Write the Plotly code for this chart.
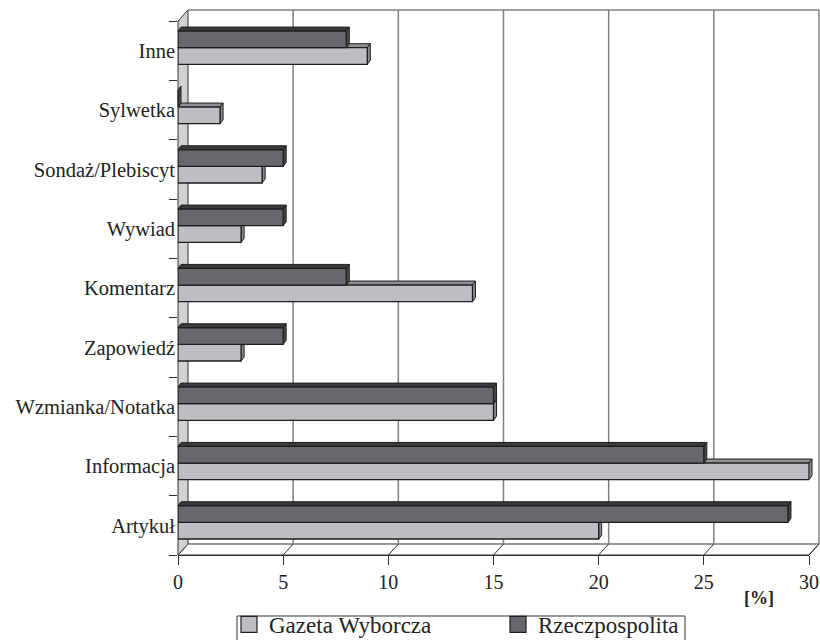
import plotly.graph_objects as go

categories = ["Artykuł", "Informacja", "Wzmianka/Notatka", "Zapowiedź", "Komentarz",
              "Wywiad", "Sondaż/Plebiscyt", "Sylwetka", "Inne"]
gazeta_wyborcza = [20, 30, 15, 3, 14, 3, 4, 2, 9]
rzeczpospolita = [29, 25, 15, 5, 8, 5, 5, 0, 8]
x_ticks = [0, 5, 10, 15, 20, 25, 30]

LIGHT = "#bdbec2"
DARK = "#67686c"
EDGE = "#1e1e1e"
FONT = "Liberation Serif, Times New Roman, serif"

W, H = 820, 640
L, R, T, B = 178, 11, 21, 85
PW, PH = W - L - R, H - T - B
XMAX = 30.0
NCAT = len(categories)


def pxp(dx):
    return dx / PW


def pyp(dy):
    return dy / PH


def xp(v):
    return v / XMAX


def yp(c):
    return (c + 0.5) / NCAT


DEPTH_X, DEPTH_Y = pxp(10), pyp(11)
CAP_X, CAP_Y = pxp(3), pyp(4)
BAR_W = 0.28
OFF_GW, OFF_R = -0.23, 0.05

fig = go.Figure()
fig.add_trace(go.Bar(name="Gazeta Wyborcza", y=categories, x=gazeta_wyborcza, orientation="h",
                     width=BAR_W, offset=OFF_GW, showlegend=False,
                     marker=dict(color=LIGHT, line=dict(color=EDGE, width=1.3))))
fig.add_trace(go.Bar(name="Rzeczpospolita", y=categories, x=rzeczpospolita, orientation="h",
                     width=BAR_W, offset=OFF_R, showlegend=False,
                     marker=dict(color=DARK, line=dict(color=EDGE, width=1.3))))
# legend entries with square swatches
for name, col in (("Gazeta Wyborcza", LIGHT), ("Rzeczpospolita", DARK)):
    fig.add_trace(go.Scatter(name=name, x=[None], y=[None], mode="markers",
                             marker=dict(symbol="square", size=16, color=col,
                                         line=dict(color="#222", width=1.2))))

shapes = []


def poly(pts, fill, line="#222", lw=1.0, layer="below"):
    path = "M " + " L ".join(f"{x:.5f},{y:.5f}" for x, y in pts) + " Z"
    shapes.append(dict(type="path", xref="paper", yref="paper", path=path,
                       fillcolor=fill, line=dict(color=line, width=lw), layer=layer))


# floor
poly([(0, 0), (1, 0), (1 + DEPTH_X, DEPTH_Y), (DEPTH_X, DEPTH_Y)], "white", "#333", 1)
# left wall
poly([(0, 0), (0, 1), (DEPTH_X, 1 + DEPTH_Y), (DEPTH_X, DEPTH_Y)], "#d2d2d2", "#333", 1)
# back wall top
shapes.append(dict(type="line", xref="paper", yref="paper", x0=DEPTH_X, x1=1 + DEPTH_X,
                   y0=1 + DEPTH_Y, y1=1 + DEPTH_Y, line=dict(color="#808080", width=1.5), layer="below"))
for v in x_ticks[1:]:
    shapes.append(dict(type="line", xref="paper", yref="paper", x0=xp(v) + DEPTH_X, x1=xp(v) + DEPTH_X,
                       y0=DEPTH_Y, y1=1 + DEPTH_Y, line=dict(color="#808080", width=1.5), layer="below"))
    shapes.append(dict(type="line", xref="paper", yref="paper", x0=xp(v), x1=xp(v) + DEPTH_X,
                       y0=0, y1=DEPTH_Y, line=dict(color="#333", width=1), layer="below"))

# 3D caps on bars
for i in range(NCAT):
    for vals, off, top_col, side_col in ((gazeta_wyborcza, OFF_GW, "#8e8f93", "#8a8b8f"),
                                         (rzeczpospolita, OFF_R, "#3a3a3c", "#48494c")):
        v = vals[i]
        y0 = yp(i + off)
        y1 = yp(i + off + BAR_W)
        x0 = xp(0)
        x1 = xp(v)
        poly([(x0, y1), (x1, y1), (x1 + CAP_X, y1 + CAP_Y), (x0 + CAP_X, y1 + CAP_Y)], top_col, EDGE, 1)
        poly([(x1, y0), (x1, y1), (x1 + CAP_X, y1 + CAP_Y), (x1 + CAP_X, y0 + CAP_Y)], side_col, EDGE, 1)

# legend frame
shapes.append(dict(type="rect", xref="paper", yref="paper",
                   x0=pxp(237 - L), x1=pxp(685 - L), y0=-pyp(616 - (H - B)), y1=-pyp(642 - (H - B)),
                   line=dict(color="#333", width=1), fillcolor="rgba(0,0,0,0)", layer="below"))

fig.update_layout(
    width=W, height=H,
    margin=dict(l=L, r=R, t=T, b=B, autoexpand=False),
    paper_bgcolor="white", plot_bgcolor="rgba(0,0,0,0)",
    barmode="overlay",
    shapes=shapes,
    font=dict(family=FONT, color="#222"),
    xaxis=dict(range=[0, XMAX], tickvals=x_ticks, ticks="outside", ticklen=9, tickcolor="#333",
               showline=True, linecolor="#333", linewidth=1, showgrid=False, zeroline=False,
               automargin=False, fixedrange=True,
               tickfont=dict(family=FONT, size=20, color="#222")),
    yaxis=dict(categoryorder="array", categoryarray=categories, range=[-0.5, NCAT - 0.5],
               tickson="boundaries", ticks="outside", ticklen=8, tickcolor="#333",
               showline=False, showgrid=False, zeroline=False, automargin=False,
               ticklabelstandoff=2,
               tickfont=dict(family=FONT, size=20.5, color="#222")),
    legend=dict(orientation="h", x=pxp(229 - L), xanchor="left", y=-pyp(603 - (H - B)), yanchor="top",
                borderwidth=0, bgcolor="rgba(0,0,0,0)",
                font=dict(family=FONT, size=23, color="#222"),
                entrywidth=224, entrywidthmode="pixels", traceorder="normal"),
    annotations=[dict(text="<b>[%]</b>", xref="paper", yref="paper", x=pxp(759 - L), y=-pyp(598 - (H - B)),
                      xanchor="center", yanchor="middle", showarrow=False,
                      font=dict(family=FONT, size=18, color="#222"))],
    showlegend=True,
)

fig.write_html("out.html", config={"displayModeBar": False},
               post_script="document.body.style.margin='0px';document.body.style.overflow='hidden';")
